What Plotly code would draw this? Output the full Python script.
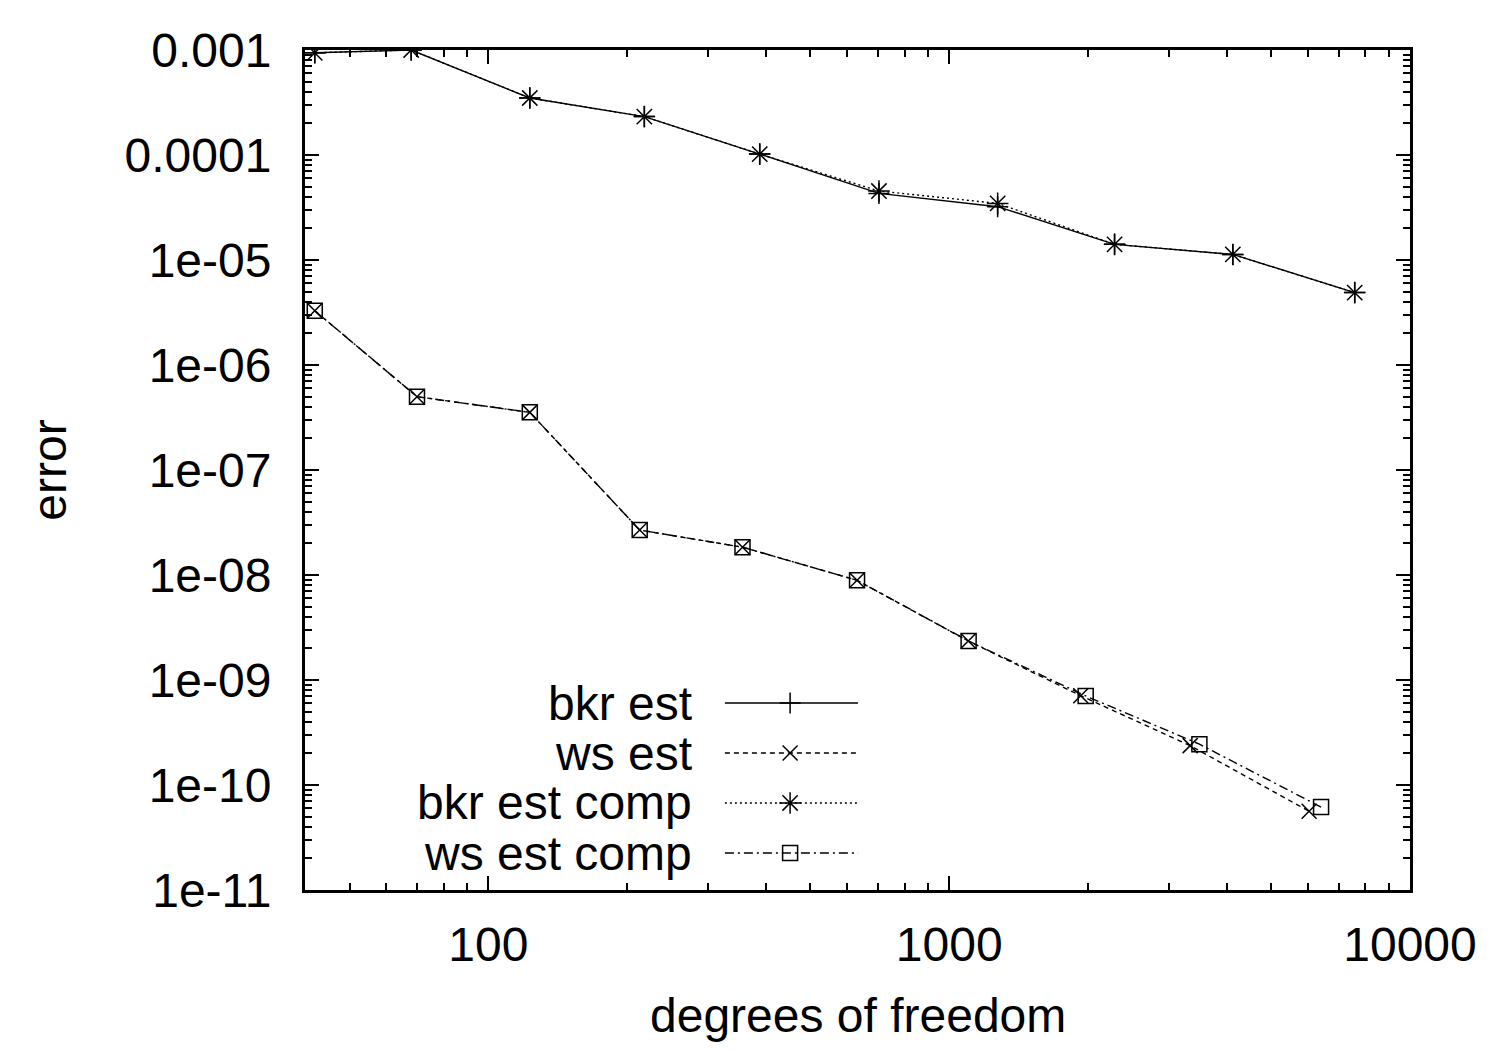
import plotly.graph_objects as go
import numpy as np

# ---- data ----
dof_bkr = [42, 68, 123, 218, 388, 704, 1274, 2285, 4126, 7586]
err_bkr_est = [9.4e-4, 1.0e-3, 3.49e-4, 2.32e-4, 1.02e-4, 4.31e-5, 3.22e-5, 1.41e-5, 1.13e-5, 4.89e-6]
err_bkr_est_comp = [9.4e-4, 1.0e-3, 3.49e-4, 2.32e-4, 1.02e-4, 4.54e-5, 3.46e-5, 1.41e-5, 1.13e-5, 4.89e-6]

dof_ws = [42, 70, 123, 213, 356, 631, 1100, 1930, 3334, 6040]
err_ws_est = [3.29e-6, 4.99e-7, 3.54e-7, 2.68e-8, 1.84e-8, 8.9e-9, 2.35e-9, 7.08e-10, 2.37e-10, 5.62e-11]
dof_ws_comp = [42, 70, 123, 213, 356, 631, 1102, 1978, 3491, 6412]
err_ws_est_comp = [3.29e-6, 4.99e-7, 3.54e-7, 2.68e-8, 1.84e-8, 8.9e-9, 2.35e-9, 7.05e-10, 2.45e-10, 6.16e-11]

series_names = ["bkr est", "ws est", "bkr est comp", "ws est comp"]

x_tickvals = [100, 1000, 10000]
x_ticktext = ["100", "1000", "10000"]
y_tickvals = [1e-11, 1e-10, 1e-9, 1e-8, 1e-7, 1e-6, 1e-5, 1e-4, 1e-3]
y_ticktext = ["1e-11", "1e-10", "1e-09", "1e-08", "1e-07", "1e-06", "1e-05", "0.0001", "0.001"]

# ---- styles ----
FONT = "Liberation Sans, Arial, sans-serif"
FS = 48
BLACK = "#000000"
styles = [
    dict(dash="solid", symbol="cross-thin-open", size=15),
    dict(dash="5px,4px", symbol="x-thin-open", size=15),
    dict(dash="2px,3px", symbol="asterisk-open", size=18),
    dict(dash="9px,4px,2px,4px", symbol="square-open", size=15),
]
xs = [dof_bkr, dof_ws, dof_bkr, dof_ws_comp]
ys = [err_bkr_est, err_ws_est, err_bkr_est_comp, err_ws_est_comp]

fig = go.Figure()
for name, x, y, st in zip(series_names, xs, ys, styles):
    fig.add_trace(go.Scatter(
        x=x, y=y, name=name, mode="lines+markers", showlegend=False,
        line=dict(color=BLACK, width=1.4, dash=st["dash"]),
        marker=dict(symbol=st["symbol"], size=st["size"], color=BLACK,
                    line=dict(color=BLACK, width=1.5)),
        xaxis="x", yaxis="y",
    ))

# ---- custom legend (text left of sample, gnuplot style) ----
leg_rows = [0.2226, 0.1631, 0.1036, 0.044]
for name, st, yr in zip(series_names, styles, leg_rows):
    fig.add_trace(go.Scatter(
        x=[0.380, 0.5005], y=[yr, yr], mode="lines", showlegend=False,
        line=dict(color=BLACK, width=1.4, dash=st["dash"]),
        xaxis="x2", yaxis="y2", hoverinfo="skip",
    ))
    fig.add_trace(go.Scatter(
        x=[0.439], y=[yr], mode="markers", showlegend=False,
        marker=dict(symbol=st["symbol"], size=st["size"], color=BLACK,
                    line=dict(color=BLACK, width=1.5)),
        xaxis="x2", yaxis="y2", hoverinfo="skip",
    ))
    fig.add_annotation(
        x=0.352, y=yr, xref="x2", yref="y2", text=name, showarrow=False,
        xanchor="right", yanchor="middle",
        font=dict(family=FONT, size=FS, color=BLACK),
    )

# minor ticks
x_minor = [m * 10 ** e for e in range(1, 4) for m in range(2, 10) if 40 <= m * 10 ** e <= 10000]
y_minor = [m * 10.0 ** e for e in range(-11, -3) for m in range(2, 10)]

fig.update_layout(
    width=1500, height=1050,
    margin=dict(l=305, r=90, t=50, b=160),
    paper_bgcolor="white", plot_bgcolor="white",
    font=dict(family=FONT, size=FS, color=BLACK),
    xaxis=dict(
        type="log", range=[np.log10(40), 4],
        tickmode="array", tickvals=x_tickvals, ticktext=x_ticktext,
        ticks="inside", ticklen=14, tickwidth=1.5, tickcolor=BLACK,
        showline=True, linewidth=3, linecolor=BLACK, mirror="allticks",
        showgrid=False, zeroline=False,
        ticklabelstandoff=10,
        tickfont=dict(family=FONT, size=FS, color=BLACK),
        minor=dict(tickmode="array", tickvals=x_minor, ticks="inside",
                   ticklen=7, tickwidth=1.5, tickcolor=BLACK, showgrid=False),
    ),
    yaxis=dict(
        type="log", range=[-11, -3],
        tickmode="array", tickvals=y_tickvals, ticktext=y_ticktext,
        ticks="inside", ticklen=14, tickwidth=1.5, tickcolor=BLACK,
        showline=True, linewidth=3, linecolor=BLACK, mirror="allticks",
        showgrid=False, zeroline=False,
        ticklabelstandoff=21,
        tickfont=dict(family=FONT, size=FS, color=BLACK),
        minor=dict(tickmode="array", tickvals=y_minor, ticks="inside",
                   ticklen=7, tickwidth=1.5, tickcolor=BLACK, showgrid=False),
    ),
    xaxis2=dict(range=[0, 1], overlaying="x", visible=False, fixedrange=True),
    yaxis2=dict(range=[0, 1], overlaying="y", visible=False, fixedrange=True),
)

fig.add_annotation(x=0.5, y=-0.149, xref="paper", yref="paper",
                   text="degrees of freedom", showarrow=False,
                   xanchor="center", yanchor="middle",
                   font=dict(family=FONT, size=FS, color=BLACK))
fig.add_annotation(x=-0.232, y=0.5, xref="paper", yref="paper",
                   text="error", showarrow=False, textangle=-90,
                   xanchor="center", yanchor="middle",
                   font=dict(family=FONT, size=FS, color=BLACK))

fig.write_html("out.html")
